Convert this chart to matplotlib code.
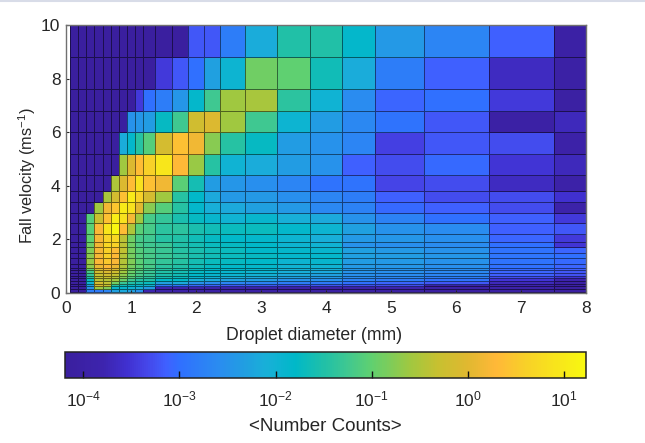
import numpy as np
import matplotlib
matplotlib.use('Agg')
import matplotlib.pyplot as plt
from matplotlib.colors import LinearSegmentedColormap, LogNorm, to_rgb
from matplotlib.lines import Line2D

plt.rcParams['font.family'] = ['Liberation Sans', 'DejaVu Sans']
plt.rcParams['mathtext.default'] = 'regular'

# bin edges, disdrometer classes
diam_edges = [0.062, 0.187, 0.312, 0.437, 0.562, 0.687, 0.812, 0.937, 1.062, 1.187, 1.375, 1.625,
              1.875, 2.125, 2.375, 2.75, 3.25, 3.75, 4.25, 4.75, 5.5, 6.5, 7.5, 8.5]
vel_edges = [0.05, 0.15, 0.25, 0.35, 0.45, 0.55, 0.65, 0.75, 0.85, 0.95, 1.1, 1.3, 1.5, 1.7, 1.9,
             2.2, 2.6, 3.0, 3.4, 3.8, 4.4, 5.2, 6.0, 6.8, 7.6, 8.8, 10.4]

# log10 of number counts, bottom row first
D = -4.15
log_counts = [
    [D, D, -2.8, -2.85, -2.7, -2.3, -2.2, -2.3, -2.5, -3.8, -3.9, -3.95, -4, -4, -4, -4, -4.05, -4.05, -4.05, -4.05, -4.1, -4.05, -4.1],
    [D, D, -2.5, -0.6, -0.8, -1.9, -1.9, -2, -2.1, -2.4, -3.8, -3.85, -3.9, -3.9, -3.9, -3.9, -3.95, -3.95, -3.9, -3.8, -4, -3.95, -4.1],
    [D, D, -2.3, -0.1, -0.3, -1.5, -1.7, -1.8, -1.9, -2, -2.9, -3, -3.1, -3.15, -3.2, -3.2, -3.3, -3.25, -3.3, -3.3, -3.9, -3.85, -4.05],
    [D, D, -2, -0.15, -0.35, -0.9, -1.3, -1.5, -1.6, -1.7, -2.3, -2.2, -2.5, -2.6, -2.7, -2.75, -2.8, -2.85, -3, -3.1, -3.2, -3.7, -4],
    [D, D, -1.7, -0.4, -0.45, -0.6, -0.95, -1.25, -1.45, -1.5, -1.8, -1.8, -2.1, -2.2, -2.3, -2.35, -2.5, -2.55, -2.75, -2.8, -2.95, -3.5, -3.8],
    [D, D, -1.5, -0.35, -0.3, -0.45, -0.8, -1.1, -1.3, -1.4, -1.6, -1.7, -1.9, -2, -2.1, -2.2, -2.3, -2.4, -2.6, -2.65, -2.8, -3.3, -3.5],
    [D, D, -1.35, -0.3, -0.2, -0.35, -0.7, -1, -1.2, -1.35, -1.55, -1.65, -1.8, -1.9, -1.95, -2.05, -2.2, -2.3, -2.55, -2.6, -2.7, -3.15, -3.25],
    [D, D, -1.2, -0.2, -0.1, -0.25, -0.6, -0.95, -1.15, -1.3, -1.5, -1.6, -1.75, -1.85, -1.9, -1.95, -2.1, -2.2, -2.5, -2.55, -2.65, -3.1, -3.2],
    [D, D, -1, -0.1, 0.1, -0.1, -0.55, -0.9, -1.1, -1.25, -1.45, -1.55, -1.7, -1.8, -1.85, -1.9, -2.05, -2.1, -2.45, -2.5, -2.6, -3.05, -3.15],
    [D, D, -0.7, 0.1, 0.3, 0.1, -0.5, -0.85, -1.05, -1.2, -1.4, -1.5, -1.65, -1.75, -1.8, -1.85, -2, -2, -2.4, -2.45, -2.55, -3, -3.1],
    [D, D, -0.65, 0.25, 0.5, 0.25, -0.45, -0.8, -1.05, -1.2, -1.35, -1.45, -1.6, -1.7, -1.75, -1.8, -1.95, -1.9, -2.35, -2.4, -2.5, -2.95, -3.05],
    [D, D, -0.7, 0.2, 0.6, 0.3, -0.45, -0.85, -1.1, -1.2, -1.3, -1.4, -1.55, -1.65, -1.7, -1.75, -1.85, -1.85, -2.3, -2.35, -2.45, -2.9, -3],
    [D, D, -0.8, 0.2, 0.6, 0.35, -0.35, -0.85, -1.1, -1.2, -1.3, -1.45, -1.55, -1.65, -1.7, -1.8, -1.85, -1.9, -2.3, -2.4, -2.5, -2.95, -3.1],
    [D, D, -0.9, 0.15, 0.7, 0.6, -0.4, -0.9, -1.15, -1.25, -1.3, -1.5, -1.6, -1.7, -1.75, -1.8, -1.95, -2, -2.5, -2.55, -2.6, -3, -3.5],
    [D, D, -1, 0.2, 0.65, 0.7, -0.4, -0.9, -1.2, -1.25, -1.45, -1.5, -1.65, -1.75, -1.8, -1.85, -1.95, -2.1, -2.4, -2.45, -2.55, -3.1, -3.45],
    [D, D, -1.05, 0.25, 0.9, 1.2, 0.35, -0.5, -1.05, -1.2, -1.4, -1.4, -1.55, -1.65, -1.7, -1.7, -1.85, -1.95, -2.3, -2.5, -2.6, -3.15, -3.2],
    [D, D, -1.1, -0.3, 0.4, 1.05, 0.85, 0.2, -0.6, -1.2, -1.35, -1.55, -1.75, -1.9, -2, -1.9, -2.1, -2.2, -2.5, -2.75, -3, -3.15, -3.45],
    [D, D, D, -0.6, 0.15, 0.45, 1, 0.85, 0, -0.75, -1.1, -1.45, -1.85, -2.1, -2.2, -2.3, -2.4, -2.65, -2.75, -3.05, -3.15, -3.3, -3.9],
    [D, D, D, D, -0.55, -0.15, 0.4, 1, 0.6, -0.15, -0.6, -1.45, -1.8, -2.2, -2.4, -2.4, -2.55, -2.7, -2.8, -3.15, -3.3, -3.3, -3.55],
    [D, D, D, D, D, -0.5, -0.05, 0.35, 0.85, 0.4, 0.15, -1.05, -1.6, -2.35, -2.45, -2.55, -2.7, -2.95, -2.95, -3.35, -3.3, -3.65, -3.95],
    [D, D, D, D, D, D, -0.6, -0.05, 0.35, 0.6, 0.95, 0.3, -0.65, -1.45, -2, -2.15, -2.35, -2.5, -3.15, -3.3, -3.05, -3.5, -3.7],
    [D, D, D, D, D, D, -2.15, -1.85, -1.45, -1.1, -0.15, 0.4, 0.15, -0.75, -1.45, -1.75, -2.35, -2.5, -2.7, -3.4, -3.2, -3.3, -3.95],
    [D, D, D, D, D, D, D, -2.5, -2.45, -2.35, -1.75, -1.25, -0.2, -0.05, -0.6, -1.25, -1.95, -2.35, -2.65, -2.95, -3.2, -4, -3.7],
    [D, D, D, D, D, D, D, D, -3.45, -3, -2.8, -2.45, -1.85, -1.25, -0.6, -0.55, -1.4, -2, -2.6, -3.1, -3, -3.45, -4.05],
    [D, D, D, D, D, D, D, D, D, D, -3.45, -3.2, -3, -2.3, -1.95, -0.9, -1, -1.65, -2.15, -2.8, -3.15, -3.65, -4],
    [D, D, D, D, D, D, D, D, D, D, D, D, -3.2, -3.2, -2.8, -2.15, -1.5, -1.5, -1.85, -2.4, -2.7, -3.15, -4],
]

# colorbar colours against log10(counts)
cmap_logs = [-4.19, -3.8, -3.55, -3.35, -3.15, -3, -2.6, -2.3, -2.1, -1.8, -1.5, -1.25, -1, -0.6, -0.3, 0, 0.3, 0.6, 1.226]
cmap_cols = ['#3a1f9e', '#3d24ae', '#4030d0', '#4545e8', '#3f60ff', '#3070ff', '#2a8cf0', '#20a0e0', '#18b0d8',
             '#00b8c8', '#20c0a8', '#40c890', '#60d070', '#a0c840', '#c8c030', '#e0b830', '#ffb838', '#f8d028', '#f8f810']
vmin = 10**-4.19
vmax = 10**1.226

pos = [(v - cmap_logs[0])/(cmap_logs[-1] - cmap_logs[0]) for v in cmap_logs]
cmap = LinearSegmentedColormap.from_list('counts', list(zip(pos, [to_rgb(c) for c in cmap_cols])), N=256)

W, H = 645, 443
fig = plt.figure(figsize=(W/100, H/100), dpi=100)
ax = fig.add_axes([66/W, 1 - 293/H, 520/W, 268/H])
cax = fig.add_axes([65/W, 1 - 378/H, 521/W, 26/H])

mesh = ax.pcolormesh(diam_edges, vel_edges, 10**np.array(log_counts), cmap=cmap,
                     norm=LogNorm(vmin=vmin, vmax=vmax), edgecolors=(0, 0, 0, 0.5), linewidth=0.6)
ax.set_xlim(0, 8)
ax.set_ylim(0, 10)
ax.set_xticks(range(0, 9))
ax.set_yticks(range(0, 11, 2))
ax.tick_params(direction='in', length=2.5, width=0.8, labelsize=12.5, color='#262626', labelcolor='#262626')
ax.tick_params(axis='x', pad=6)
ax.tick_params(axis='y', pad=4)
for s in ax.spines.values():
    s.set_color('#707070')
    s.set_linewidth(1.0)
ax.set_xlabel('Droplet diameter (mm)', fontsize=12.7, color='#262626')
ax.set_ylabel('Fall velocity (ms$^{-1}$)', fontsize=11.7, color='#262626')
ax.xaxis.set_label_coords(0.477, -0.125)
ax.yaxis.set_label_coords(-0.054, 0.437)

cb = fig.colorbar(mesh, cax=cax, orientation='horizontal')
cb.ax.xaxis.set_minor_locator(matplotlib.ticker.NullLocator())
cb.set_ticks([1e-4, 1e-3, 1e-2, 1e-1, 1, 10])
cb.ax.set_xticklabels(['10$^{-4}$', '10$^{-3}$', '10$^{-2}$', '10$^{-1}$', '10$^{0}$', '10$^{1}$'])
cb.ax.tick_params(direction='in', length=5, width=1, labelsize=12.5, color='#111111', labelcolor='#262626', pad=8)
cb.outline.set_edgecolor('#222222')
cb.outline.set_linewidth(1.1)
cb.set_label('<Number Counts>', fontsize=13.5, color='#262626')
cb.ax.xaxis.set_label_coords(0.5, -1.53)

# thin light strip along the top of the screenshot
fig.add_artist(Line2D([0, 1], [0.9985, 0.9985], transform=fig.transFigure, color='#d8dce8', lw=1.5))

fig.savefig('out.png', dpi=100)
